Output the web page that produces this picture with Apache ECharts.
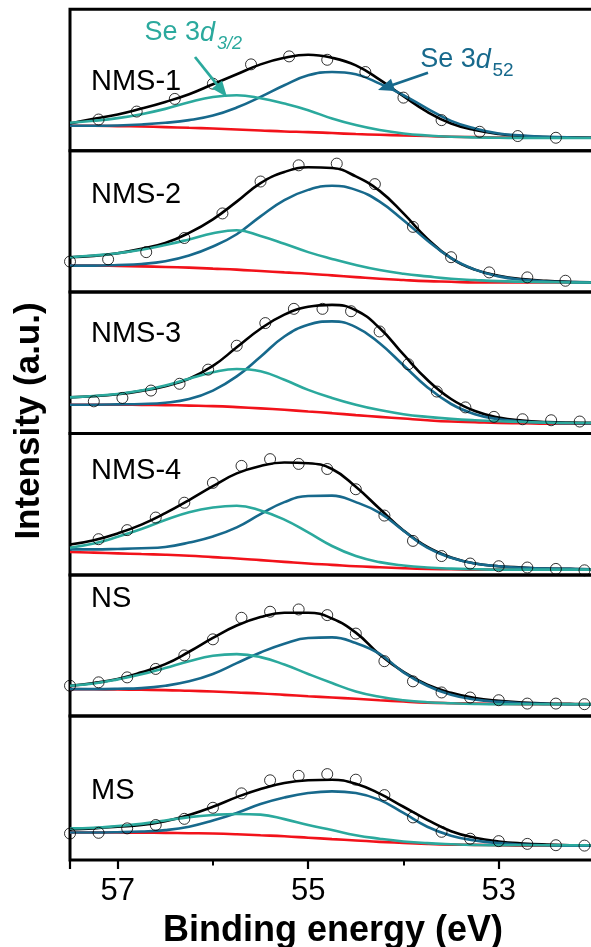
<!DOCTYPE html>
<html>
<head>
<meta charset="utf-8">
<title>Se 3d XPS spectra</title>
<script src="https://cdn.jsdelivr.net/npm/echarts@6.0.0/dist/echarts.min.js"></script>
<style>
  html, body { margin: 0; padding: 0; background: #fff; }
  #chart { width: 591px; height: 947px; }
</style>
</head>
<body>
<div id="chart"></div>
<script>
// Binding energy grid (eV) used by every fitted curve
const energyGrid = [57.5, 57.25, 57.0, 56.75, 56.5, 56.25, 56.0, 55.75, 55.5, 55.25, 55.0,
  54.75, 54.5, 54.25, 54.0, 53.75, 53.5, 53.25, 53.0, 52.75, 52.5, 52.25, 52.0];

// Sample names, top to bottom
const sampleNames = ['NMS-1', 'NMS-2', 'NMS-3', 'NMS-4', 'NS', 'MS'];

// Major tick labels on the binding-energy axis
const energyTicks = [57, 55, 53];

// ---- NMS-1 ----
const nms1Energy = [57.2, 56.8, 56.4, 56.0, 55.6, 55.2, 54.8, 54.4, 54.0, 53.6, 53.2, 52.8, 52.4];
const nms1Raw = [31.3, 39.3, 52.0, 67.3, 86.7, 94.7, 91.3, 79.0, 53.3, 30.7, 19.0, 14.7, 13.0];
const nms1Fit = [27.3, 32.0, 36.3, 42.3, 49.0, 56.7, 66.7, 76.7, 86.7, 93.3, 96.3, 93.3, 85.7, 71.3, 54.7, 39.0, 27.3, 20.7, 16.7, 14.7, 13.7, 13.3, 13.0];
const nms1Se32 = [28.0, 30.0, 32.7, 36.7, 42.0, 48.7, 54.0, 55.7, 52.7, 47.3, 40.7, 32.3, 25.7, 20.7, 17.3, 15.3, 14.0, 13.3, 13.0, 12.7, 12.7, 12.7, 12.7];
const nms1Se52 = [25.0, 25.0, 25.3, 26.3, 28.0, 30.7, 35.3, 43.3, 54.0, 65.7, 75.7, 79.0, 76.7, 67.3, 55.7, 42.3, 30.0, 22.3, 17.3, 15.3, 14.0, 13.3, 13.0];
const nms1Bg = [25.0, 25.0, 24.7, 24.3, 23.7, 23.0, 22.3, 21.3, 20.3, 19.3, 18.7, 17.7, 16.7, 16.0, 15.3, 14.7, 14.0, 13.7, 13.3, 13.0, 13.0, 13.0, 13.0];

// ---- NMS-2 ----
const nms2Energy = [57.5, 57.1, 56.7, 56.3, 55.9, 55.5, 55.1, 54.7, 54.3, 53.9, 53.5, 53.1, 52.7, 52.3];
const nms2Raw = [30.5, 32.8, 40.0, 54.2, 78.9, 111.0, 127.3, 129.0, 108.4, 65.4, 34.9, 19.6, 14.6, 11.2];
const nms2Fit = [34.9, 36.2, 38.9, 43.3, 49.1, 59.3, 73.0, 90.8, 109.4, 120.6, 125.3, 124.6, 116.2, 101.6, 78.9, 53.5, 33.9, 22.4, 16.3, 12.9, 11.2, 10.2, 9.5];
const nms2Se32 = [34.9, 36.6, 38.9, 42.3, 47.1, 52.8, 58.9, 62.0, 56.2, 48.4, 40.0, 33.2, 27.1, 22.0, 18.3, 15.6, 13.2, 11.9, 10.8, 10.2, 9.8, 9.5, 9.5];
const nms2Se52 = [26.4, 26.4, 27.1, 28.1, 30.8, 36.6, 45.7, 58.0, 76.0, 92.4, 102.6, 106.7, 102.6, 90.8, 72.1, 51.8, 33.9, 22.4, 15.6, 12.2, 10.5, 9.8, 9.5];
const nms2Bg = [26.4, 26.4, 26.1, 25.7, 25.1, 24.4, 23.4, 22.4, 21.0, 19.6, 18.3, 16.6, 14.9, 13.2, 11.9, 10.8, 10.2, 9.5, 9.5, 9.5, 9.5, 9.5, 9.5];

// ---- NMS-3 ----
const nms3Energy = [57.25, 56.95, 56.65, 56.35, 56.05, 55.75, 55.45, 55.15, 54.85, 54.55, 54.25, 53.95, 53.65, 53.35, 53.05, 52.75, 52.45, 52.15];
const nms3Raw = [32.2, 35.6, 43.0, 49.8, 64.0, 88.0, 110.7, 125.0, 125.0, 122.6, 102.3, 69.4, 42.0, 26.1, 16.6, 14.2, 13.2, 11.9];
const nms3Fit = [36.2, 37.3, 39.3, 42.7, 47.4, 54.9, 67.7, 86.4, 105.0, 119.2, 127.0, 129.0, 123.6, 105.7, 79.2, 53.8, 34.5, 22.4, 15.9, 12.9, 11.5, 10.8, 10.5];
const nms3Se32 = [36.2, 37.6, 39.6, 43.0, 48.1, 54.9, 61.3, 64.7, 62.3, 53.8, 43.7, 35.6, 28.8, 23.4, 19.3, 16.6, 14.6, 13.2, 12.2, 11.5, 10.8, 10.5, 10.5];
const nms3Se52 = [28.8, 28.8, 29.1, 29.5, 30.8, 34.5, 43.0, 57.2, 76.9, 97.2, 109.0, 112.4, 106.7, 90.4, 68.4, 46.4, 29.5, 19.3, 14.2, 11.9, 10.8, 10.2, 10.2];
const nms3Bg = [28.8, 28.8, 28.8, 28.6, 28.4, 27.9, 27.4, 26.4, 25.1, 23.7, 22.0, 20.3, 18.3, 16.6, 14.9, 13.2, 11.9, 11.2, 10.5, 10.2, 9.8, 9.8, 9.8];

// ---- NMS-4 ----
const nms4Energy = [57.2, 56.9, 56.6, 56.3, 56.0, 55.7, 55.4, 55.1, 54.8, 54.5, 54.2, 53.9, 53.6, 53.3, 53.0, 52.7, 52.4, 52.1];
const nms4Raw = [35.9, 45.0, 57.6, 72.5, 92.4, 109.4, 116.2, 111.4, 106.3, 86.0, 59.6, 34.2, 19.0, 11.5, 8.8, 7.5, 6.1, 4.7];
const nms4Fit = [30.5, 34.9, 41.7, 50.5, 62.0, 75.2, 89.1, 101.9, 109.4, 112.8, 112.1, 106.3, 88.4, 66.4, 44.7, 28.1, 17.6, 11.5, 8.8, 7.5, 6.4, 6.1, 5.8];
const nms4Se32 = [27.4, 31.5, 38.3, 46.1, 55.2, 63.0, 67.7, 69.4, 64.7, 55.5, 42.7, 29.1, 19.0, 12.9, 9.5, 7.5, 6.4, 5.8, 5.4, 5.4, 5.4, 5.4, 5.4];
const nms4Se52 = [25.7, 25.7, 26.1, 26.8, 28.1, 32.5, 38.6, 47.7, 61.0, 73.1, 79.2, 79.6, 73.1, 62.3, 44.4, 27.4, 17.3, 11.5, 8.8, 7.1, 6.4, 6.1, 5.8];
const nms4Bg = [23.0, 22.4, 21.7, 21.0, 20.3, 19.3, 17.9, 16.6, 14.9, 13.2, 11.5, 10.2, 8.8, 7.8, 6.8, 6.1, 5.8, 5.4, 5.4, 5.4, 5.4, 5.4, 5.4];

// ---- NS ----
const nsEnergy = [57.5, 57.2, 56.9, 56.6, 56.3, 56.0, 55.7, 55.4, 55.1, 54.8, 54.5, 54.2, 53.9, 53.6, 53.3, 53.0, 52.7, 52.4, 52.1];
const nsRaw = [30.5, 33.9, 38.9, 47.4, 61.0, 77.2, 98.9, 105.0, 107.3, 101.6, 83.0, 55.2, 34.9, 23.7, 18.6, 15.9, 12.5, 12.5, 11.9];
const nsFit = [30.5, 33.2, 37.3, 44.0, 52.2, 64.7, 78.6, 91.1, 99.6, 104.0, 104.0, 98.2, 84.0, 62.0, 44.4, 31.5, 23.4, 18.0, 15.2, 13.5, 12.5, 12.2, 11.9];
const nsSe32 = [30.5, 32.8, 36.9, 42.0, 48.4, 55.2, 60.6, 62.3, 59.3, 51.8, 42.3, 33.2, 24.7, 19.3, 15.9, 13.9, 12.9, 12.2, 11.9, 11.9, 11.9, 11.9, 11.9];
const nsSe52 = [27.1, 27.1, 27.4, 28.1, 30.5, 34.9, 42.3, 53.2, 64.0, 72.8, 78.6, 79.2, 73.5, 62.6, 44.0, 30.5, 21.3, 16.6, 14.2, 12.9, 12.2, 11.9, 11.9];
const nsBg = [27.1, 26.9, 26.7, 26.4, 26.1, 25.4, 24.7, 23.7, 22.7, 21.3, 19.9, 18.6, 17.3, 15.9, 14.6, 13.5, 12.9, 12.5, 12.2, 11.9, 11.9, 11.9, 11.9];

// ---- MS ----
const msEnergy = [57.5, 57.2, 56.9, 56.6, 56.3, 56.0, 55.7, 55.4, 55.1, 54.8, 54.5, 54.2, 53.9, 53.6, 53.3, 53.0, 52.7, 52.4, 52.1];
const msRaw = [26.1, 26.8, 31.2, 34.5, 40.6, 51.5, 65.7, 78.6, 83.0, 84.7, 79.2, 64.0, 42.0, 27.8, 21.0, 18.6, 15.9, 14.6, 14.2];
const msFit = [30.1, 31.2, 32.8, 34.5, 38.3, 44.4, 52.5, 62.0, 70.1, 75.9, 78.6, 79.2, 75.2, 65.4, 52.5, 39.6, 28.4, 22.0, 18.3, 16.3, 15.2, 14.6, 14.2];
const msSe32 = [31.2, 31.8, 33.5, 35.6, 38.9, 42.3, 44.4, 45.4, 44.7, 40.3, 34.5, 29.5, 24.4, 21.0, 18.3, 16.6, 15.6, 14.9, 14.6, 14.6, 14.6, 14.6, 14.6];
const msSe52 = [27.1, 27.1, 27.4, 28.1, 29.5, 32.8, 38.9, 46.4, 55.2, 61.6, 66.0, 67.7, 66.0, 59.3, 46.4, 32.8, 24.0, 19.3, 16.6, 15.2, 14.6, 14.2, 14.2];
const msBg = [27.1, 27.1, 27.1, 26.9, 26.7, 26.4, 26.1, 25.4, 24.4, 23.4, 22.0, 20.6, 19.3, 17.9, 16.9, 15.9, 15.2, 14.9, 14.6, 14.2, 14.2, 14.2, 14.2];

// ---- assemble panels ----
const panels = [
  { name: sampleNames[0], energy: nms1Energy, raw: nms1Raw, fit: nms1Fit, se32: nms1Se32, se52: nms1Se52, bg: nms1Bg },
  { name: sampleNames[1], energy: nms2Energy, raw: nms2Raw, fit: nms2Fit, se32: nms2Se32, se52: nms2Se52, bg: nms2Bg },
  { name: sampleNames[2], energy: nms3Energy, raw: nms3Raw, fit: nms3Fit, se32: nms3Se32, se52: nms3Se52, bg: nms3Bg },
  { name: sampleNames[3], energy: nms4Energy, raw: nms4Raw, fit: nms4Fit, se32: nms4Se32, se52: nms4Se52, bg: nms4Bg },
  { name: sampleNames[4], energy: nsEnergy, raw: nsRaw, fit: nsFit, se32: nsSe32, se52: nsSe52, bg: nsBg },
  { name: sampleNames[5], energy: msEnergy, raw: msRaw, fit: msFit, se32: msSe32, se52: msSe52, bg: msBg }
];

// ---- layout / style ----
const FONT = "'Liberation Sans', Arial, Helvetica, sans-serif";
const TEAL = '#2BA99D';
const BLUE = '#17698C';
const RED = '#F2121A';
const PLOT_LEFT = 70;
const PLOT_WIDTH = 524;                 // 5.5 eV wide, right edge runs just off the page
const PX_PER_EV = PLOT_WIDTH / 5.5;
const PANEL_TOPS = [9.3, 150.7, 291.9, 433.4, 575.0, 716.0];
const PANEL_BOTTOM = 860;
const Y_MAX = 142;
const labelCapCenters = [82, 195.4, 334, 471, 598.8, 791.2];

const grids = [], xAxes = [], yAxes = [], series = [];

panels.forEach((p, i) => {
  const top = PANEL_TOPS[i];
  const bottom = i < PANEL_TOPS.length - 1 ? PANEL_TOPS[i + 1] : PANEL_BOTTOM;
  const isLast = i === panels.length - 1;
  grids.push({
    left: PLOT_LEFT, top: top, width: PLOT_WIDTH, height: bottom - top,
    outerBoundsMode: 'none', containLabel: false,
    show: true, borderColor: '#000', borderWidth: 3, backgroundColor: 'transparent'
  });
  xAxes.push({
    gridIndex: i, type: 'value', min: 52, max: 57.5, interval: 1, inverse: true,
    show: isLast,
    axisLine: { show: false },
    axisTick: { show: isLast, inside: false, length: 5.5, lineStyle: { color: '#000', width: 2 } },
    axisLabel: { show: false },
    splitLine: { show: false }
  });
  yAxes.push({ gridIndex: i, type: 'value', min: 0, max: Y_MAX, show: false, splitLine: { show: false } });

  const pairs = arr => energyGrid.map((e, k) => [e, arr[k]]);
  const lineBase = { type: 'line', xAxisIndex: i, yAxisIndex: i, showSymbol: false, smooth: 0.45, silent: true, animation: false };
  series.push(Object.assign({}, lineBase, { name: p.name + ' background', data: pairs(p.bg), z: 2, lineStyle: { color: RED, width: 2.6 } }));
  series.push(Object.assign({}, lineBase, { name: p.name + ' envelope', data: pairs(p.fit), z: 3, lineStyle: { color: '#000', width: 2.6 } }));
  series.push(Object.assign({}, lineBase, { name: p.name + ' Se 3d5/2', data: pairs(p.se52), z: 4, lineStyle: { color: BLUE, width: 2.6 } }));
  series.push(Object.assign({}, lineBase, { name: p.name + ' Se 3d3/2', data: pairs(p.se32), z: 5, lineStyle: { color: TEAL, width: 2.6 } }));
  series.push({
    type: 'scatter', name: p.name + ' raw', xAxisIndex: i, yAxisIndex: i,
    data: p.energy.map((e, k) => [e, p.raw[k]]),
    symbol: 'circle', symbolSize: 11, z: 6, silent: true, animation: false,
    itemStyle: { color: 'rgba(255,255,255,0)', borderColor: '#000', borderWidth: 1 }
  });
});

// Extra invisible grid (one more eV to the right) that carries the long
// major ticks and their labels at odd eV values
const lastTop = PANEL_TOPS[PANEL_TOPS.length - 1];
grids.push({
  left: PLOT_LEFT, top: lastTop, width: PLOT_WIDTH + PX_PER_EV, height: PANEL_BOTTOM - lastTop,
  outerBoundsMode: 'none', containLabel: false, show: false
});
xAxes.push({
  gridIndex: 6, type: 'value', min: 51, max: 57.5, interval: 2, inverse: true,
  axisLine: { show: false },
  axisTick: { show: true, inside: false, length: 9, lineStyle: { color: '#000', width: 2.2 } },
  axisLabel: {
    show: true, margin: 16, color: '#000', fontSize: 31, fontFamily: FONT,
    formatter: v => (energyTicks.indexOf(v) >= 0 ? String(v) : '')
  },
  splitLine: { show: false }
});
yAxes.push({ gridIndex: 6, type: 'value', min: 0, max: 1, show: false });

// Arrow helper for the peak annotations
function arrow(x1, y1, x2, y2, color) {
  const dx = x2 - x1, dy = y2 - y1, len = Math.hypot(dx, dy);
  const ux = dx / len, uy = dy / len, hl = 16, hw = 6.5;
  const bx = x2 - ux * hl, by = y2 - uy * hl;
  return [
    { type: 'line', z: 20, shape: { x1: x1, y1: y1, x2: bx + ux * 3, y2: by + uy * 3 }, style: { stroke: color, lineWidth: 2.8 } },
    { type: 'polygon', z: 20, shape: { points: [[x2, y2], [bx - uy * hw, by + ux * hw], [bx + uy * hw, by - ux * hw]] }, style: { fill: color } }
  ];
}

const graphics = [];
panels.forEach((p, i) => {
  graphics.push({
    type: 'text', x: 91, y: labelCapCenters[i], z: 20,
    style: { text: p.name, font: '29px ' + FONT, fill: '#000', textAlign: 'left', textVerticalAlign: 'middle' }
  });
});
// Peak labels
graphics.push({
  type: 'text', x: 144.5, y: 33, z: 20,
  style: {
    text: '{n|Se 3}{i|d}', textAlign: 'left', textVerticalAlign: 'middle',
    rich: {
      n: { fontSize: 27, fontFamily: FONT, fill: TEAL },
      i: { fontSize: 27, fontFamily: FONT, fontStyle: 'italic', fill: TEAL }
    }
  }
});
graphics.push({
  type: 'text', x: 217, y: 43.5, z: 20,
  style: { text: '3/2', font: 'italic 18px ' + FONT, fill: TEAL, textAlign: 'left', textVerticalAlign: 'middle' }
});
graphics.push({
  type: 'text', x: 420.3, y: 60, z: 20,
  style: {
    text: '{n|Se 3}{i|d}', textAlign: 'left', textVerticalAlign: 'middle',
    rich: {
      n: { fontSize: 27, fontFamily: FONT, fill: BLUE },
      i: { fontSize: 27, fontFamily: FONT, fontStyle: 'italic', fill: BLUE }
    }
  }
});
graphics.push({
  type: 'text', x: 492.5, y: 70.7, z: 20,
  style: { text: '52', font: '19px ' + FONT, fill: BLUE, textAlign: 'left', textVerticalAlign: 'middle' }
});
arrow(195, 57, 227, 97, TEAL).forEach(g => graphics.push(g));
arrow(428, 72.7, 378, 90, BLUE).forEach(g => graphics.push(g));

// Axis titles
graphics.push({
  type: 'text', x: 333, y: 931, z: 20,
  style: { text: 'Binding energy (eV)', font: 'bold 36px ' + FONT, fill: '#000', textAlign: 'center', textVerticalAlign: 'middle' }
});
graphics.push({
  type: 'text', x: 29.6, y: 421, rotation: Math.PI / 2, z: 20,
  style: { text: 'Intensity (a.u.)', font: 'bold 35px ' + FONT, fill: '#000', textAlign: 'center', textVerticalAlign: 'middle' }
});

const chart = echarts.init(document.getElementById('chart'), null, { renderer: 'canvas' });
chart.setOption({
  backgroundColor: '#fff',
  animation: false,
  grid: grids,
  xAxis: xAxes,
  yAxis: yAxes,
  series: series,
  graphic: { elements: graphics }
});
</script>
</body>
</html>
